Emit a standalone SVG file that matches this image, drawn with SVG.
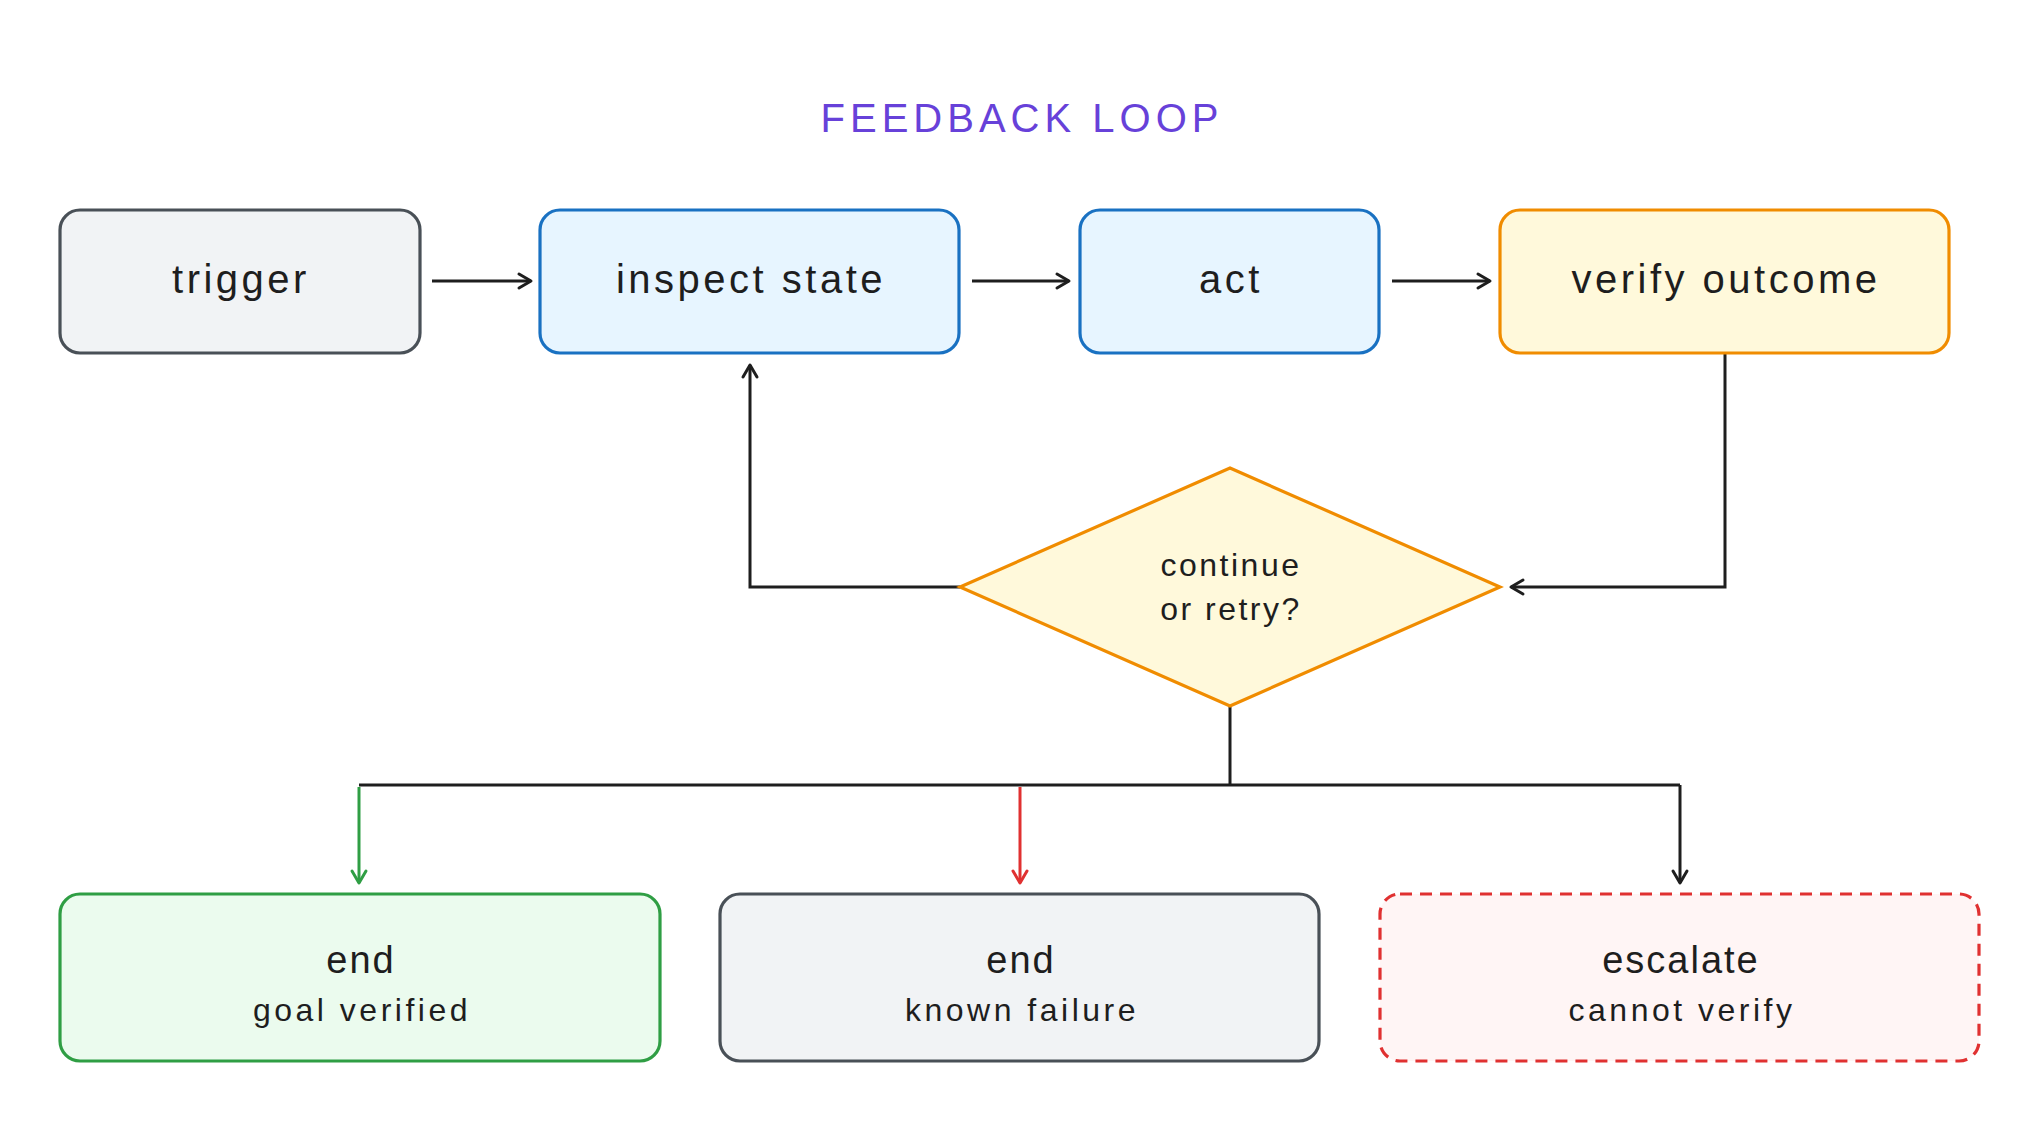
<svg xmlns="http://www.w3.org/2000/svg" width="2040" height="1122" viewBox="0 0 2040 1122">
<style>
  text { font-family: "Liberation Sans", Arial, sans-serif; fill: #1e1e1e; text-anchor: middle; }
  .title { font-size: 40px; fill: #6741d9; letter-spacing: 5px; }
  .lbl { font-size: 40px; letter-spacing: 3.5px; }
  .dlbl { font-size: 32px; letter-spacing: 2.5px; }
  .main { font-size: 38px; letter-spacing: 2px; }
  .sub { font-size: 32px; letter-spacing: 3.5px; }
  .box { stroke-width: 3.2; }
  .gray { fill: #f1f3f5; stroke: #495057; }
  .blue { fill: #e7f5ff; stroke: #1971c2; }
  .yellow { fill: #fff9db; stroke: #f08c00; }
  .green { fill: #ebfbee; stroke: #2f9e44; }
  .red { fill: #fff5f5; stroke: #e03131; stroke-dasharray: 12 8; }
  .conn path { fill: none; stroke-width: 3; stroke-linejoin: miter; }
  .k { stroke: #1e1e1e; }
  .g { stroke: #2f9e44; }
  .r { stroke: #e03131; }
</style>
<defs>
  <marker id="ak" markerUnits="userSpaceOnUse" viewBox="-16 -10 18 20" refX="0" refY="0" markerWidth="18" markerHeight="20" orient="auto" overflow="visible">
    <path d="M-12,-7 L0,0 L-12,7" fill="none" stroke="#1e1e1e" stroke-width="3" stroke-linecap="round" stroke-linejoin="round"/>
  </marker>
  <marker id="ag" markerUnits="userSpaceOnUse" viewBox="-16 -10 18 20" refX="0" refY="0" markerWidth="18" markerHeight="20" orient="auto" overflow="visible">
    <path d="M-12,-7 L0,0 L-12,7" fill="none" stroke="#2f9e44" stroke-width="3" stroke-linecap="round" stroke-linejoin="round"/>
  </marker>
  <marker id="ar" markerUnits="userSpaceOnUse" viewBox="-16 -10 18 20" refX="0" refY="0" markerWidth="18" markerHeight="20" orient="auto" overflow="visible">
    <path d="M-12,-7 L0,0 L-12,7" fill="none" stroke="#e03131" stroke-width="3" stroke-linecap="round" stroke-linejoin="round"/>
  </marker>
</defs>
<rect width="2040" height="1122" fill="#ffffff"/>

<text class="title" x="1022" y="132">FEEDBACK LOOP</text>

<g class="conn">
  <path class="k" d="M432,281 H531" marker-end="url(#ak)"/>
  <path class="k" d="M972,281 H1069" marker-end="url(#ak)"/>
  <path class="k" d="M1392,281 H1490" marker-end="url(#ak)"/>
  <path class="k" d="M960,587 H750 V365" marker-end="url(#ak)"/>
  <path class="k" d="M1725,353 V587 H1511" marker-end="url(#ak)"/>
  <path class="k" d="M1230,706 V785"/>
  <path class="k" d="M359,785 H1680"/>
  <path class="g" d="M359,787 V883" marker-end="url(#ag)"/>
  <path class="r" d="M1020,787 V883" marker-end="url(#ar)"/>
  <path class="k" d="M1680,785 V883" marker-end="url(#ak)"/>
</g>

<g id="trigger">
  <rect class="box gray" x="60" y="210" width="360" height="143" rx="20"/>
  <text class="lbl" x="241" y="293">trigger</text>
</g>
<g id="inspect-state">
  <rect class="box blue" x="540" y="210" width="419" height="143" rx="20"/>
  <text class="lbl" x="751" y="293">inspect state</text>
</g>
<g id="act">
  <rect class="box blue" x="1080" y="210" width="299" height="143" rx="20"/>
  <text class="lbl" x="1231" y="293">act</text>
</g>
<g id="verify-outcome">
  <rect class="box yellow" x="1500" y="210" width="449" height="143" rx="20"/>
  <text class="lbl" x="1726" y="293">verify outcome</text>
</g>
<g id="decision">
  <polygon class="box yellow" points="1230,468 1500,587 1230,706 960,587"/>
  <text class="dlbl" x="1231" y="576">continue</text>
  <text class="dlbl" x="1231" y="620">or retry?</text>
</g>
<g id="end-goal">
  <rect class="box green" x="60" y="894" width="600" height="167" rx="20"/>
  <text class="main" x="361" y="973">end</text>
  <text class="sub" x="362" y="1021">goal verified</text>
</g>
<g id="end-failure">
  <rect class="box gray" x="720" y="894" width="599" height="167" rx="20"/>
  <text class="main" x="1021" y="973">end</text>
  <text class="sub" x="1022" y="1021">known failure</text>
</g>
<g id="escalate">
  <rect class="box red" x="1380" y="894" width="599" height="167" rx="20"/>
  <text class="main" x="1681" y="973">escalate</text>
  <text class="sub" x="1682" y="1021">cannot verify</text>
</g>
</svg>
